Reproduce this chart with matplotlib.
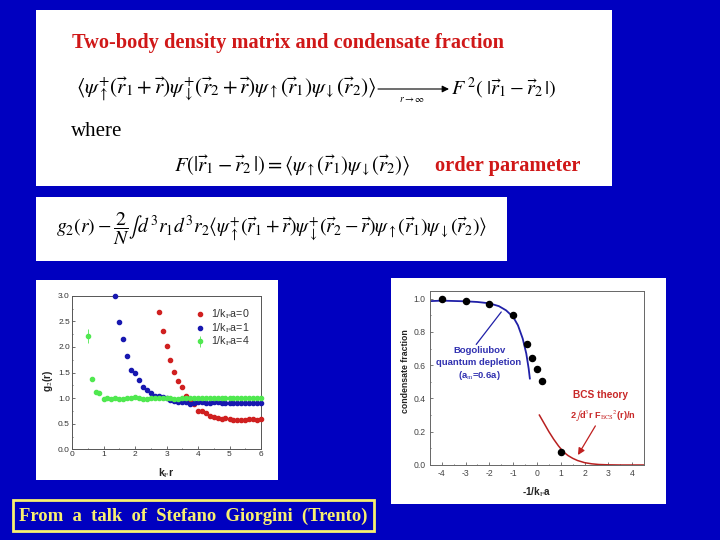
import matplotlib
matplotlib.use("Agg")
import matplotlib.pyplot as plt
from matplotlib.patches import Rectangle

# ---------- data ----------
g2_x_red = [2.75, 2.88, 3.0, 3.12, 3.25, 3.37, 3.5, 3.62, 3.75, 3.87, 4.0, 4.12, 4.25, 4.37, 4.5, 4.62, 4.75, 4.87,
            5.0, 5.12, 5.25, 5.37, 5.5, 5.62, 5.75, 5.87, 6.0]
g2_y_red = [2.68, 2.32, 2.01, 1.75, 1.51, 1.34, 1.21, 1.05, 0.97, 0.88, 0.75, 0.75, 0.71, 0.66, 0.63, 0.62, 0.59, 0.61,
            0.59, 0.58, 0.58, 0.58, 0.57, 0.60, 0.60, 0.58, 0.60]
g2_x_blue = [1.38, 1.5, 1.62, 1.75, 1.88, 2.0, 2.12, 2.25, 2.37, 2.5, 2.62, 2.75, 2.88, 3.0, 3.12, 3.25, 3.37, 3.5,
             3.62, 3.75, 3.87, 4.0, 4.12, 4.25, 4.37, 4.5, 4.62, 4.75, 4.87, 5.0, 5.12, 5.25, 5.37, 5.5, 5.62, 5.75, 5.87, 6.0]
g2_y_blue = [2.99, 2.48, 2.15, 1.83, 1.54, 1.50, 1.35, 1.22, 1.16, 1.09, 1.04, 1.04, 1.03, 1.00, 0.96, 0.95, 0.93, 0.93,
             0.93, 0.88, 0.90, 0.92, 0.92, 0.91, 0.90, 0.92, 0.92, 0.91, 0.91, 0.91, 0.91, 0.90, 0.91, 0.91, 0.90, 0.90, 0.91, 0.90]
g2_x_green = [0.5, 0.63, 0.75, 0.87, 1.0, 1.12, 1.25, 1.37, 1.5, 1.62, 1.75, 1.88, 2.0, 2.12, 2.25, 2.37, 2.5, 2.62, 2.75,
              2.88, 3.0, 3.12, 3.25, 3.37, 3.5, 3.62, 3.75, 3.87, 4.0, 4.12, 4.25, 4.37, 4.5, 4.62, 4.75, 4.87, 5.0, 5.12,
              5.25, 5.37, 5.5, 5.62, 5.75, 5.87, 6.0]
g2_y_green = [2.21, 1.37, 1.12, 1.10, 0.99, 1.01, 0.98, 1.01, 0.98, 0.99, 1.00, 1.00, 1.02, 1.01, 0.99, 0.99, 1.00, 1.00, 1.00,
              1.00, 1.00, 1.01, 0.99, 0.99, 1.00, 1.00, 1.00, 1.00, 1.00, 1.00, 1.01, 1.00, 1.00, 1.01, 1.00, 1.00, 1.00, 1.01,
              1.00, 1.00, 1.00, 1.01, 1.00, 1.00, 1.00]
g2_green_err = [0.13] + [0.0] * 44
g2_labels = [r"1/k$_{\mathrm{F}}$a=0", r"1/k$_{\mathrm{F}}$a=1", r"1/k$_{\mathrm{F}}$a=4"]

cf_x = [-4, -3, -2, -1, -0.4, -0.2, 0, 0.2, 1]
cf_y = [1.0, 0.985, 0.97, 0.90, 0.73, 0.645, 0.58, 0.505, 0.08]
bog_x = [-4.5, -4, -3, -2.5, -2, -1.6, -1.3, -1, -0.8, -0.6, -0.45, -0.35, -0.3]
bog_y = [0.985, 0.988, 0.984, 0.98, 0.972, 0.955, 0.93, 0.89, 0.84, 0.76, 0.67, 0.58, 0.52]
bcs_x = [0.1, 0.3, 0.5, 0.7, 0.9, 1.1, 1.3, 1.5, 1.7, 2.0, 2.3, 2.6, 3.0, 3.5, 4.0, 4.5]
bcs_y = [0.30, 0.25, 0.20, 0.155, 0.115, 0.08, 0.057, 0.04, 0.027, 0.014, 0.007, 0.003, 0.001, 0.0, 0.0, 0.0]

BG = "#0000c0"
RED = "#d01818"
YEL = "#f8f070"
W, H = 720, 540

plt.rcParams["font.family"] = ["Liberation Sans", "DejaVu Sans"]
plt.rcParams["mathtext.fontset"] = "stix"
fig = plt.figure(figsize=(7.2, 5.4), dpi=100, facecolor=BG)


def fx(x):
    return x / W


def fy(y):
    return 1 - y / H


def panel(x0, y0, x1, y1, fc="white", ec="none", lw=0):
    fig.add_artist(Rectangle((fx(x0), fy(y1)), (x1 - x0) / W, (y1 - y0) / H,
                             transform=fig.transFigure, facecolor=fc,
                             edgecolor=ec, linewidth=lw, zorder=0))


def txt(x, y, s, **kw):
    kw.setdefault("va", "center")
    kw.setdefault("color", "black")
    fig.text(fx(x), fy(y), s, **kw)


panel(36, 10, 612, 186)
panel(36, 197, 507, 261)
panel(36, 280, 278, 480)
panel(391, 278, 666, 504)
panel(13, 500, 374, 531, fc=BG, ec=YEL, lw=2)

serif = ["Liberation Serif", "DejaVu Serif"]
txt(72, 43, "Two-body density matrix and condensate fraction", family=serif, weight="bold",
    fontsize=14.7, color=RED)
txt(71, 132, "where", family=serif, fontsize=15)
txt(435, 166, "order parameter", family=serif, weight="bold", fontsize=14.7, color=RED)

txt(76, 89, r"$\langle\psi^{+}_{\uparrow}(\vec{r}_1+\vec{r})\psi^{+}_{\downarrow}(\vec{r}_2+\vec{r})"
            r"\psi_{\uparrow}(\vec{r}_1)\psi_{\downarrow}(\vec{r}_2)\rangle$", fontsize=15.3)
fig.add_artist(plt.Annotation("", xy=(fx(449), fy(89)), xytext=(fx(378), fy(89)), xycoords="figure fraction",
                              textcoords="figure fraction",
                              arrowprops=dict(arrowstyle="-|>", lw=0.8, color="black", shrinkA=0, shrinkB=0)))
txt(399, 99, r"$r\rightarrow\infty$", fontsize=7)
txt(451, 88, r"$F^{\,2}(\ |\vec{r}_1-\vec{r}_2\,|)$", fontsize=14.5)
txt(174, 166, r"$F(|\vec{r}_1-\vec{r}_2\,|)=\langle\psi_{\uparrow}(\vec{r}_1)\psi_{\downarrow}(\vec{r}_2)\rangle$",
    fontsize=14.9)
txt(56, 229, r"$g_2(r)-\dfrac{2}{N}\int d^3r_1d^3r_2\langle\psi^{+}_{\uparrow}(\vec{r}_1+\vec{r})"
             r"\psi^{+}_{\downarrow}(\vec{r}_2-\vec{r})\psi_{\uparrow}(\vec{r}_1)\psi_{\downarrow}(\vec{r}_2)\rangle$",
    fontsize=14.1)
txt(19, 516, "From  a  talk  of  Stefano  Giorgini  (Trento)", family=serif, weight="bold", fontsize=13.4, color=YEL)

# ---------- left chart ----------
ax = fig.add_axes([fx(72), fy(449.3), (261 - 72) / W, (449.3 - 295.7) / H])
ax.plot(g2_x_red, g2_y_red, "o", ms=3.0, color="#d02020", clip_on=False, label=g2_labels[0], zorder=3)
ax.plot(g2_x_blue, g2_y_blue, "o", ms=3.0, color="#1818b0", clip_on=False, label=g2_labels[1], zorder=4)
ax.errorbar(g2_x_green, g2_y_green, yerr=g2_green_err, fmt="o", ms=3.0, color="#50e850", clip_on=False,
            elinewidth=0.6, label=g2_labels[2], zorder=5)
ax.set_xlim(0, 6)
ax.set_ylim(0, 3)
ax.set_xticks(range(7))
ax.set_yticks([0, 0.5, 1, 1.5, 2, 2.5, 3])
ax.set_yticklabels(["0.0", "0.5", "1.0", "1.5", "2.0", "2.5", "3.0"])
ax.set_xticks([0.5, 1.5, 2.5, 3.5, 4.5, 5.5], minor=True)
ax.set_yticks([0.25, 0.75, 1.25, 1.75, 2.25, 2.75], minor=True)
ax.tick_params(labelsize=6, length=2, width=0.5, pad=1.5, colors="#333333", direction="in")
ax.tick_params(which="minor", length=1, width=0.4, direction="in")
for s in ax.spines.values():
    s.set_linewidth(0.7)
    s.set_color("#555555")
ax.set_xlabel(r"k$_{\mathrm{F}}$r", fontsize=7.5, weight="bold", labelpad=5.5, color="#222222")
ax.set_ylabel(r"g$_{2}$(r)", fontsize=7.2, weight="bold", labelpad=2, color="#222222", y=0.445)
leg = ax.legend(loc="upper left", bbox_to_anchor=((195 - 72) / 189, (449.3 - 308) / 153.6), frameon=False,
                fontsize=7.7, handletextpad=0.5, handlelength=1.0, borderpad=0, borderaxespad=0,
                labelspacing=0.0, numpoints=1)
for t in leg.get_texts():
    t.set_color("#333333")

# ---------- right chart ----------
ax2 = fig.add_axes([fx(430), fy(465), (644 - 430) / W, (465 - 291) / H])
ax2.plot(bog_x, bog_y, color="#2020a8", lw=1.3)
ax2.plot(bcs_x, bcs_y, color="#b82020", lw=1.1)
ax2.plot(cf_x, cf_y, "o", ms=4.4, color="black", zorder=4)
ax2.set_xlim(-4.49, 4.49)
ax2.set_ylim(0, 1.046)
ax2.set_xticks(range(-4, 5))
ax2.set_xticklabels(["-4", "-3", "-2", "-1", "0", "1", "2", "3", "4"])
ax2.set_yticks([0, 0.2, 0.4, 0.6, 0.8, 1.0])
ax2.set_yticklabels(["0.0", "0.2", "0.4", "0.6", "0.8", "1.0"])
ax2.set_xticks([-3.5, -2.5, -1.5, -0.5, 0.5, 1.5, 2.5, 3.5], minor=True)
ax2.set_yticks([0.1, 0.3, 0.5, 0.7, 0.9], minor=True)
ax2.tick_params(labelsize=6.2, length=2, width=0.5, pad=3, colors="#444444", direction="in")
ax2.tick_params(which="minor", length=1, width=0.4, direction="in")
for s in ax2.spines.values():
    s.set_linewidth(0.7)
    s.set_color("#666666")
ax2.set_xlabel(r"-1/k$_{\mathrm{F}}$a", fontsize=7.2, weight="bold", labelpad=5, color="#222222")
ax2.set_ylabel("condensate fraction", fontsize=6.3, weight="bold", labelpad=3, color="#222222", y=0.54)

ax2.annotate("", xy=(-1.5, 0.92), xytext=(-2.55, 0.725),
             arrowprops=dict(arrowstyle="-", lw=0.9, color="#2020a8", shrinkA=0, shrinkB=0))
ax2.annotate("", xy=(1.72, 0.06), xytext=(2.45, 0.235),
             arrowprops=dict(arrowstyle="-|>", lw=0.9, color="#c02020", shrinkA=0, shrinkB=0))
blue_txt = dict(color="#3030b0", fontsize=6.8, weight="bold", ha="center", va="center")
ax2.text(-2.43, 0.69, "Bogoliubov", **blue_txt)
ax2.text(-2.43, 0.615, "quantum depletion", **blue_txt)
ax2.text(-2.43, 0.54, r"(a$_{\mathrm{m}}$=0.6a)", **blue_txt)
red_txt = dict(color="#c82828", fontsize=7.3, weight="bold", ha="center", va="center")
ax2.text(2.65, 0.42, "BCS theory", **red_txt)
ax2.text(2.75, 0.30, r"2$\int$d$^{3}$r F$_{\mathrm{BCS}}$$^{2}$(r)/n", color="#c82828", fontsize=6.6,
         weight="bold", ha="center", va="center")

fig.savefig("out.png", dpi=100, facecolor=BG)
